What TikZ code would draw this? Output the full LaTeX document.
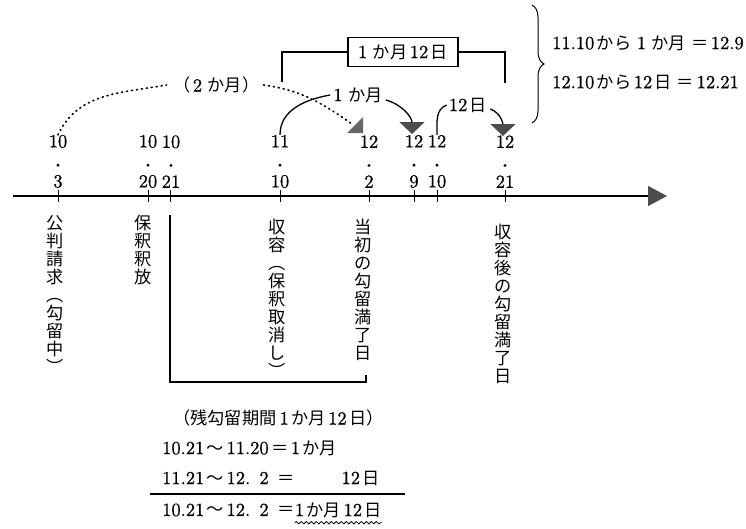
\documentclass[tikz,border=0pt]{standalone}
\usepackage{fontspec}
\setmainfont{lmroman10-regular.otf}[FakeBold=0.8]
\newfontfamily\jp{Noto Sans CJK JP}[Scale=0.93]
\newcommand{\J}[1]{\hspace{2.5pt}{\jp #1}\hspace{2.5pt}}
\newcommand{\pt}{{\fontsize{10}{10}\selectfont\textbullet}}
\usetikzlibrary{arrows.meta, positioning, decorations.pathreplacing, decorations.pathmorphing}

\begin{document}
\begin{tikzpicture}[x=1pt, y=-1pt,
  every node/.style={inner sep=0pt, font=\fontsize{18.5}{20}\selectfont},
  date/.style={align=center, anchor=south},
  tate/.style={align=center, anchor=north, font=\fontsize{18.5}{18}\selectfont\jp},
  rule/.style={line width=1.1pt},
  curveline/.style={line width=1.3pt},
  bighead/.style={-{Triangle[length=12pt, width=25pt, color=black!70, fill=black!70]}},
  dots/.style={line width=1.7pt, dash pattern=on 1pt off 4pt, line cap=round}]
  \path[use as bounding box] (0,0) rectangle (746,528);

  % Time axis
  \coordinate (start) at (13,196);
  \coordinate (end) at (667,196);
  \draw[line width=1.2pt, -{Triangle[length=19pt, width=20pt, color=black!70, fill=black!70]}]
     (start) -- (end);
  \foreach \x in {58,148,170,280,369,414,437,505}
    \draw[line width=0.7pt] (\x,190) -- (\x,202);

  % Dates
  \node[date] (d103) at (58,188) {10\\\pt\\3};
  \node[date] (d1020) at (148,188) {10\\\pt\\20};
  \node[date] (d1021) at (171,188) {10\\\pt\\21};
  \node[date] (d1110) at (280,188) {11\\\pt\\10};
  \node[date] (d122) at (369,188) {12\\\pt\\2};
  \node[date] (d129) at (414,188) {12\\\pt\\9};
  \node[date] (d1210) at (437,188) {12\\\pt\\10};
  \node[date] (d1221) at (505,188) {12\\\pt\\21};

  % Events (vertical)
  \node[tate] (kohan) at (55,215) {公\\判\\請\\求\\︵\\勾\\留\\中\\︶};
  \node[tate] (hoshaku) at (143,215) {保\\釈\\釈\\放};
  \node[tate] (shuyo) at (277,219) {収\\容\\︵\\保\\釈\\取\\消\\し\\︶};
  \node[tate] (toshou) at (363,219) {当\\初\\の\\勾\\留\\満\\了\\日};
  \node[tate] (shugo) at (503,224) {収\\容\\後\\の\\勾\\留\\満\\了\\日};

  % Remaining period
  \draw[rule] (170,215) -- (170,382) -- (366,382) -- (366,375);
  \node[anchor=west] (zan) at (173,418) {{\jp （残勾留期間}\,1\J{か月}12\J{日）}};
  \node[anchor=west] (l1) at (162,448) {10.21\J{～}11.20\J{＝}1\J{か月}};
  \node[anchor=west] (l2) at (162,478) {11.21\J{～}12.\hphantom{0}2\ \J{＝}};
  \node[anchor=east] (l2r) at (380,478) {12\J{日}};
  \draw[rule] (150,494) -- (405,494);
  \node[anchor=west] (l3) at (162,510) {10.21\J{～}12.\hphantom{0}2\ \J{＝}};
  \node[right=0pt of l3] (res) {1\J{か月}12\J{日}};
  \draw[line width=0.8pt, decorate, decoration={snake, amplitude=1.2pt, segment length=5pt}]
     ([yshift=-5pt]res.south west) -- ([yshift=-5pt]res.south east);

  % Total after custody
  \node[draw, rule, inner xsep=10pt, inner ysep=7pt] (total) at (403,52) {1\,\J{か月}12\J{日}};
  \draw[rule] (282,82) |- (total.west);
  \draw[rule] (total.east) -| (505,83);

  % Counting
  \node (nika) at (215,85) {\J{（}2\,\J{か月）}};
  \node (ikka) at (358,95) {1\,\J{か月}};
  \node (juni) at (468,105) {12\J{日}};
  \coordinate (dotend) at (352,124);
  \coordinate (tri) at (363,133);
  \coordinate (h129) at (412,134);
  \coordinate (h1221) at (503,136);
  \draw[dots] (d103.north) to[out=65, in=190] ([xshift=-4pt]nika.west);
  \draw[dots] ([xshift=4pt]nika.east) to[out=-8, in=145] (dotend);
  \fill[black!60] (tri) -- ++(-16,0) -- ++(16,-16) -- cycle;
  \draw[curveline] (d1110.north) to[out=90, in=190] ([xshift=-3pt]ikka.west);
  \draw[curveline, bighead] ([shift={(3pt,-5pt)}]ikka.east) to[out=-15, in=90] (h129);
  \draw[curveline] (d1210.north) to[out=90, in=200] ([xshift=-2pt]juni.west);
  \draw[curveline, bighead] ([shift={(3pt,-4pt)}]juni.east) to[out=-20, in=90] (h1221);

  % Check
  \draw[line width=1pt, decorate, decoration={brace, amplitude=12pt}] (532,5) -- (532,123);
  \node[anchor=west] (r1) at (552,43) {11.10\J{から}\,1\,\J{か月}\J{＝}12.9};
  \node[anchor=west] (r2) at (552,82) {12.10\J{から}12\J{日}\J{＝}12.21};
\end{tikzpicture}
\end{document}
